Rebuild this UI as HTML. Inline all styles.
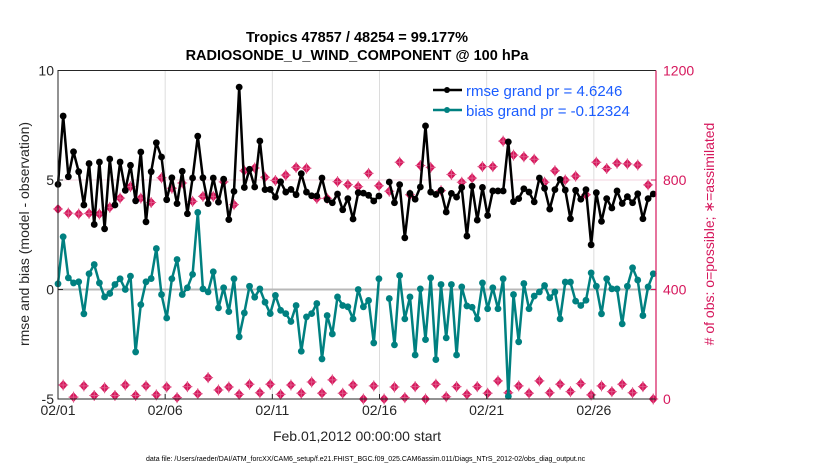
<!DOCTYPE html>
<html><head><meta charset="utf-8"><style>
body{margin:0;background:#fff;}
svg{display:block;font-family:"Liberation Sans",Arial,sans-serif;}
</style></head><body>
<svg id="chart" width="830" height="470" viewBox="0 0 830 470" xmlns="http://www.w3.org/2000/svg">
<text x="357" y="42" text-anchor="middle" font-size="14.5" font-weight="bold" fill="#000">Tropics 47857 / 48254 = 99.177%</text>
<text x="357" y="60" text-anchor="middle" font-size="14.5" font-weight="bold" fill="#000">RADIOSONDE_U_WIND_COMPONENT @ 100 hPa</text>
<g id="grid"></g>
<g id="obs"></g>
<g id="lines"></g>
<g id="axes"></g>
<text transform="translate(29,234) rotate(-90)" text-anchor="middle" font-size="14" fill="#262626">rmse and bias (model - observation)</text>
<text transform="translate(714,234) rotate(-90)" text-anchor="middle" font-size="14" fill="#d6175c">&#35; of obs: o=possible; &#8727;=assimilated</text>
<text x="357" y="441" text-anchor="middle" font-size="14" fill="#262626">Feb.01,2012 00:00:00 start</text>
<text x="146" y="461" font-size="7" fill="#000">data file: /Users/raeder/DAI/ATM_forcXX/CAM6_setup/f.e21.FHIST_BGC.f09_025.CAM6assim.011/Diags_NTrS_2012-02/obs_diag_output.nc</text>
<g>
<line x1="433" y1="90" x2="462" y2="90" stroke="#000" stroke-width="2.5"/>
<circle cx="447" cy="90" r="3" fill="#000"/>
<text x="466" y="96" font-size="15" fill="#1a5cff">rmse grand pr = 4.6246</text>
<line x1="433" y1="110" x2="462" y2="110" stroke="#008080" stroke-width="2.5"/>
<circle cx="447" cy="110" r="3" fill="#008080"/>
<text x="466" y="116" font-size="15" fill="#1a5cff">bias grand pr = -0.12324</text>
</g>
</svg>
<script>
const dayTicks = [0,5,10,15,20,25];
const dayTickLabels = ["02/01","02/06","02/11","02/16","02/21","02/26"];
const leftTicks = [10,5,0,-5];
const rightTicks = [1200,800,400,0];
const stepDays = 0.2415;
const rmse = [4.8,7.92,5.15,6.29,5.38,3.86,5.75,2.97,5.82,2.77,5.96,3.86,5.82,4.53,5.67,4.05,6.28,3.09,5.38,6.7,6.05,4.10,5.1,3.92,5.4,3.46,5.09,7.0,5.1,3.92,5.09,3.99,5.04,3.19,4.48,9.24,4.66,5.49,4.68,6.78,4.56,4.57,4.22,4.92,4.45,4.57,4.33,5.29,4.45,4.28,4.27,5.09,4.10,3.96,4.36,3.64,4.15,3.22,4.42,4.4,4.30,4.04,4.27,null,4.91,3.96,4.79,2.36,4.39,4.12,4.68,7.47,4.45,4.34,4.53,3.54,4.39,4.22,4.66,2.44,4.72,3.17,4.66,3.38,4.50,4.50,4.50,6.74,4.01,4.15,4.60,4.45,4.0,5.09,4.62,3.67,4.56,5.03,4.54,3.23,4.53,4.12,4.56,2.04,4.42,3.11,4.15,3.72,4.50,3.93,4.24,3.96,4.37,3.23,4.15,4.36];
const bias = [0.26,2.41,0.53,0.30,0.35,-1.11,0.72,1.14,0.30,-0.34,-0.18,0.23,0.49,0,0.61,-2.85,-0.69,0.35,0.50,1.87,-0.23,-1.30,0.49,1.37,-0.23,0.08,0.69,3.52,0.03,-0.11,0.81,-0.84,0.08,-1.01,0.49,-2.16,-1.07,0.15,-0.35,0.03,-0.58,-1.10,-0.27,-0.95,-1.10,-1.46,-0.73,-2.82,-1.25,-1.10,-0.64,-3.17,-1.19,-2.03,-0.34,-0.73,-0.79,-1.34,0,-0.79,-0.50,-2.44,0.49,null,-0.41,-2.53,0.64,-1.34,-0.34,-2.99,0.03,-2.29,0.53,-3.20,0.23,-2.21,0.23,-2.99,0.12,-0.75,-0.81,-1.34,0.30,-0.88,0.08,-0.88,0.49,-4.88,-0.23,-2.39,0.27,-0.88,-0.30,-0.11,0.18,-0.38,-0.11,-1.34,0.34,0.34,-0.53,-0.73,-0.49,0.76,0.15,-1.11,0.49,0.03,0.03,-1.57,0.15,0.99,0.43,-1.19,0.12,0.72];
const obsSynoptic = [694,679,676,678,676,700,734,776,734,718,808,770,789,722,740,740,793,710,834,844,810,798,818,846,843,733,733,794,783,776,824,779,759,865,746,853,846,761,820,792,807,849,849,942,891,885,876,792,834,800,814,746,865,842,861,859,855,782];
const obsOffHour = [51,7,48,13,41,13,51,13,48,15,44,5,45,19,78,33,44,17,54,23,54,17,51,21,62,21,70,21,51,0,48,0,44,5,45,0,54,8,45,17,45,21,66,23,48,21,66,23,54,27,56,15,48,27,54,23,45,0];

const X0=58,X1=656,Y0=70.5,Y1=399,DMAX=27.9;
const xS=d=>X0+d*(X1-X0)/DMAX;
const yL=v=>Y0+(10-v)*(Y1-Y0)/15;
const yR=n=>Y1-n*(Y1-Y0)/1200;
const NS="http://www.w3.org/2000/svg";
function mk(tag,attrs,parent){const e=document.createElementNS(NS,tag);for(const k in attrs)e.setAttribute(k,attrs[k]);parent.appendChild(e);return e;}
const grid=document.getElementById('grid'),axes=document.getElementById('axes'),lines=document.getElementById('lines'),obs=document.getElementById('obs');

dayTicks.forEach((d,i)=>{
  const g=mk('line',{x1:xS(d),x2:xS(d),y1:Y0,y2:Y1,stroke:'#dcdcdc','stroke-width':1},grid);
  
  
  const t=mk('line',{x1:xS(d),x2:xS(d),y1:Y1,y2:Y1-5,stroke:'#262626','stroke-width':1},axes);
  
  
  const l=mk('text',{x:xS(d),y:Y1+16,'text-anchor':'middle','font-size':14,fill:'#262626'},axes);
  l.textContent=dayTickLabels[i];
  
  
});
const pink=mk('line',{x1:X0,x2:X1,y1:yR(800),y2:yR(800),stroke:'#f3d3df','stroke-width':1},grid);


const zl=mk('line',{x1:X0,x2:X1,y1:yL(0),y2:yL(0),stroke:'#b8b8b8','stroke-width':2},grid);



leftTicks.forEach(v=>{
  const t=mk('line',{x1:X0,x2:X0+5,y1:yL(v),y2:yL(v),stroke:'#262626'},axes);
  
  
  const l=mk('text',{x:X0-4,y:yL(v)+5,'text-anchor':'end','font-size':14,fill:'#262626'},axes);
  l.textContent=v;
  
  
});
rightTicks.forEach(v=>{
  const t=mk('line',{x1:X1,x2:X1-5,y1:yR(v),y2:yR(v),stroke:'#d6175c'},axes);
  
  
  const l=mk('text',{x:X1+7,y:yR(v)+5,'font-size':14,fill:'#d6175c'},axes);
  l.textContent=v;
  
  
});
const bx=mk('path',{d:`M${X1},${Y0}H${X0}V${Y1}H${X1}`,fill:'none',stroke:'#262626','stroke-width':1},axes);


const ra=mk('line',{x1:X1,x2:X1,y1:Y0,y2:Y1,stroke:'#d6175c','stroke-width':1.2},axes);



function obsMark(n,i){
  const x=xS(i*stepDays),y=yR(n);
  const g=mk('g',{},obs);
  
  
  mk('path',{d:`M${x},${y-5}L${x+4.5},${y}L${x},${y+5}L${x-4.5},${y}Z`,fill:'#d6175c'},g);
  mk('circle',{cx:x,cy:y,r:3.3,fill:'#d6175c'},g);
  mk('path',{d:`M${x-5},${y}H${x+5}M${x},${y-5.5}V${y+5.5}`,stroke:'#e05a8a','stroke-width':1},g);
}
obsSynoptic.forEach((n,k)=>obsMark(n,2*k));
obsOffHour.forEach((n,k)=>obsMark(n,2*k+1));

function series(vals,color,name){
  let d='',pen=false;
  vals.forEach((v,i)=>{
    if(v===null){pen=false;return;}
    d+=(pen?'L':'M')+xS(i*stepDays).toFixed(1)+','+yL(v).toFixed(1);pen=true;
  });
  const p=mk('path',{d:d,fill:'none',stroke:color,'stroke-width':2.5,'stroke-linejoin':'round'},lines);
  
  
  vals.forEach((v,i)=>{
    if(v===null)return;
    const c=mk('circle',{cx:xS(i*stepDays),cy:yL(v),r:3.4,fill:color},lines);
    
    
  });
}
series(bias,'#008080','bias');
series(rmse,'#000000','rmse');
</script>
</body></html>
